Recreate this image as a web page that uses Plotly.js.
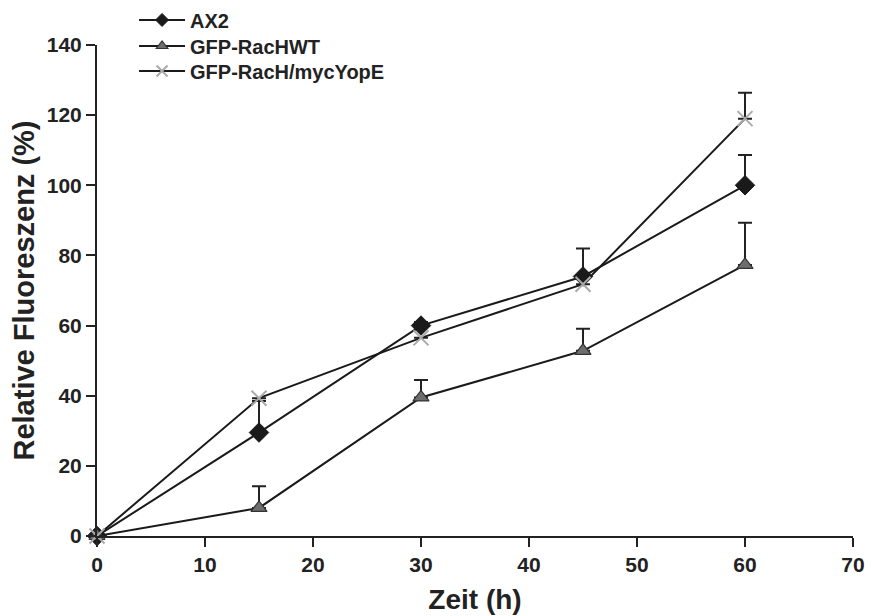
<!DOCTYPE html>
<html>
<head>
<meta charset="utf-8">
<script src="https://cdn.plot.ly/plotly-3.0.1.min.js"></script>
<style>body{margin:0;background:#fff}#chart{width:872px;height:616px}</style>
</head>
<body>
<div id="chart"></div>
<script>
const hours = [0, 15, 30, 45, 60];
const ax2 = [0, 29.5, 60, 74, 100];
const ax2Err = [0, 9, 1, 8, 8.6];
const racWT = [0, 8, 39.5, 52.8, 77.3];
const racWTErr = [0, 6.2, 5, 6.3, 12];
const yopE = [0, 39.3, 56.5, 71.8, 119];
const yopEErr = [0, 0, 0, 0, 7.4];
const seriesNames = ['AX2', 'GFP-RacHWT', 'GFP-RacH/mycYopE'];

function errSpec(arr) {
  return {type: 'data', symmetric: false, array: arr, arrayminus: arr.map(() => 0),
          color: '#222', thickness: 2, width: 7, visible: true};
}

const styles = [
  {symbol: 'diamond', size: 15, color: '#1a1a1a', line: {color: '#1a1a1a', width: 1}},
  {symbol: 'triangle-up', size: 14, color: '#6e6e6e', line: {color: '#333', width: 1.2}},
  {symbol: 'x-thin-open', size: 15, color: '#aaaaaa', line: {color: '#aaaaaa', width: 2}}
];
const legendSizes = [10, 10, 11];
const legendIds = ['legend', 'legend2', 'legend3'];
const dataY = [ax2, racWT, yopE];
const dataErr = [ax2Err, racWTErr, yopEErr];

const traces = [];
for (let i = 0; i < 3; i++) {
  traces.push({x: hours, y: dataY[i], name: seriesNames[i], mode: 'lines+markers', cliponaxis: false,
    showlegend: false, line: {color: '#1a1a1a', width: 2}, marker: styles[i], error_y: errSpec(dataErr[i])});
}
for (let i = 0; i < 3; i++) {
  traces.push({x: [null], y: [null], name: seriesNames[i], mode: 'lines+markers', showlegend: true,
    legend: legendIds[i], line: {color: '#1a1a1a', width: 2},
    marker: Object.assign({}, styles[i], {size: legendSizes[i]})});
}

function legendAt(yc) {
  return {x: 0.049, y: yc, xanchor: 'left', yanchor: 'middle', bgcolor: 'rgba(0,0,0,0)',
          font: {family: '"Liberation Sans", Arial, sans-serif', size: 20, color: '#222', weight: 'bold'},
          itemwidth: 46, itemsizing: 'trace'};
}

const tickFont = {family: '"Liberation Sans", Arial, sans-serif', size: 21, color: '#222', weight: 'bold'};
const layout = {
  width: 872, height: 616,
  margin: {l: 97, r: 19, t: 45, b: 80, autoexpand: false},
  paper_bgcolor: '#fff', plot_bgcolor: '#fff',
  font: {family: '"Liberation Sans", Arial, sans-serif', color: '#222'},
  showlegend: true,
  legend: legendAt(1.051),
  legend2: legendAt(0.998),
  legend3: legendAt(0.947),
  xaxis: {range: [0, 70], tickvals: [0,10,20,30,40,50,60,70], showgrid: false, zeroline: false,
          showline: true, linecolor: '#222', linewidth: 2, ticks: 'outside', ticklen: 9, tickwidth: 2, tickcolor: '#222',
          tickfont: tickFont,
          title: {text: 'Zeit (h)', font: {family: '"Liberation Sans", Arial, sans-serif', size: 28, weight: 'bold', color: '#222'}, standoff: 14}},
  yaxis: {range: [0, 140], tickvals: [0,20,40,60,80,100,120,140], showgrid: false, zeroline: false,
          showline: true, linecolor: '#222', linewidth: 2, ticks: 'outside', ticklen: 9, tickwidth: 2, tickcolor: '#222',
          tickfont: tickFont,
          title: {text: 'Relative Fluoreszenz (%)', font: {family: '"Liberation Sans", Arial, sans-serif', size: 29, weight: 'bold', color: '#222'}, standoff: 4}}
};

Plotly.newPlot('chart', traces, layout, {displayModeBar: false, staticPlot: true});
</script>
</body>
</html>
